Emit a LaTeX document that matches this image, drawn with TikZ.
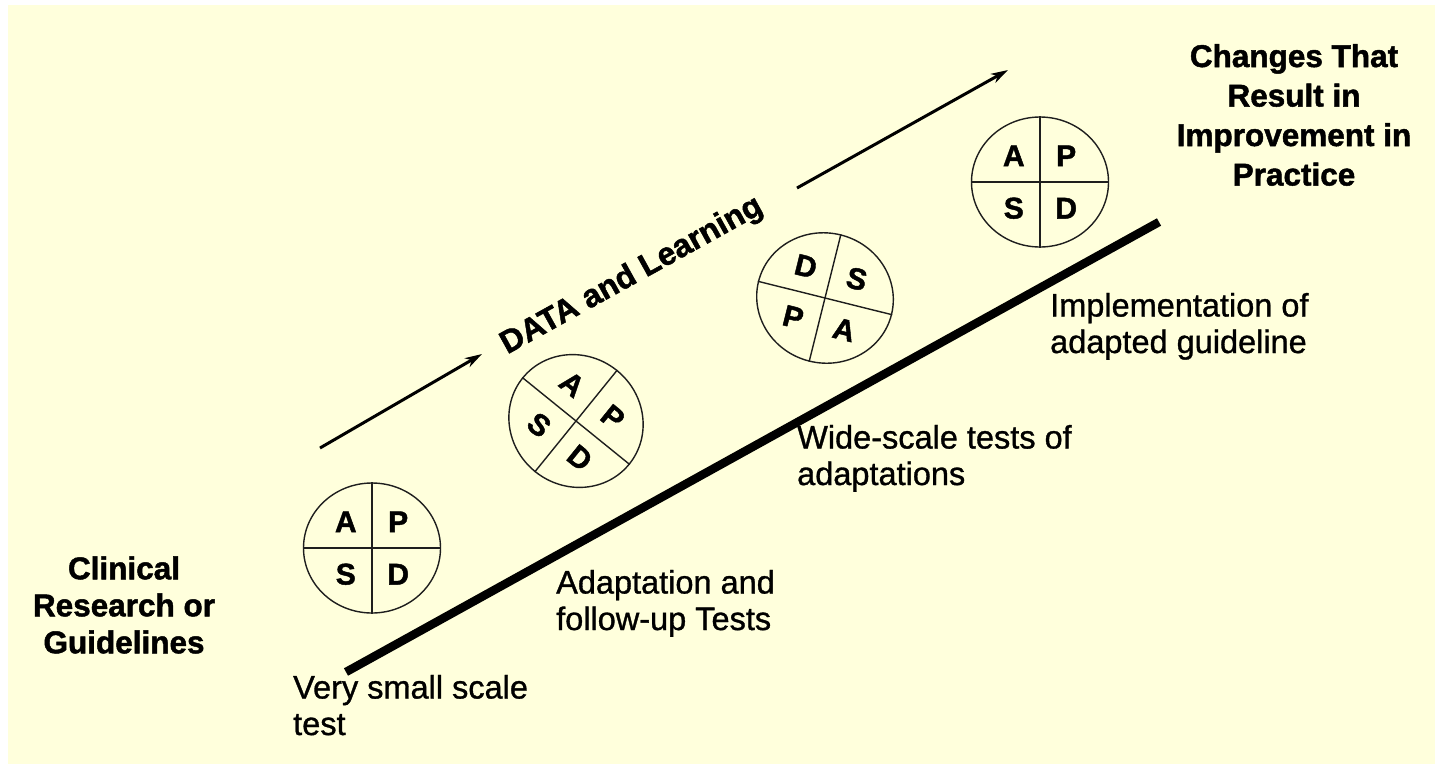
\documentclass[tikz,border=0pt]{standalone}
\usepackage{fontspec}
\setmainfont{Liberation Sans}
\newfontfamily\stagefont[FakeBold=1]{Liberation Sans}
\newfontfamily\headfont[FakeBold=1.5]{Liberation Sans Bold}
\usetikzlibrary{shapes.geometric,arrows.meta,calc}
\definecolor{paper}{RGB}{255,255,220}
\definecolor{ink}{RGB}{30,30,30}
\begin{document}
\begin{tikzpicture}[x=1pt,y=-1pt,
  pdsa/.style={draw=ink, line width=1.4pt, ellipse, minimum width=137pt,
    minimum height=130pt, inner sep=0pt},
  quad/.style={draw=ink, line width=1.4pt},
  letter/.style={font=\fontsize{30}{30}\selectfont\headfont, inner sep=0pt},
  title/.style={font=\fontsize{31.5}{#1}\selectfont\headfont, align=center, inner sep=0pt},
  title/.default=38,
  label/.style={font=\fontsize{32.5}{36.5}\selectfont\stagefont, align=left,
    anchor=base west, inner sep=0pt},
  flow/.style={line width=3pt, -{Stealth[length=17pt,width=10pt,inset=5pt]}},
  scaleline/.style={line width=8.5pt}]

% page and paper
\useasboundingbox (0,0) rectangle (1435,764);
\fill[white] (0,0) rectangle (1435,764);
\fill[paper] (8,5) rectangle (1435,764);

% the rising scale line
\coordinate (s0) at (346,672);
\coordinate (s1) at (1159,222);
\draw[scaleline] (s0) -- (s1);

% data and learning arrows
\coordinate (a0) at (320,448);
\coordinate (a1) at (482,354);
\coordinate (b0) at (797,188);
\coordinate (b1) at (1008,70);
\draw[flow] (a0) -- (a1);
\draw[flow] (b0) -- (b1);
\node[font=\fontsize{32}{32}\selectfont\headfont, rotate=29, inner sep=0pt]
  (data) at (632,276) {DATA and Learning};

% PDSA cycle 1
\node[pdsa] (c1) at (372,548) {};
\draw[quad] (c1.north) -- (c1.south) (c1.west) -- (c1.east);
\node[letter] (c1a) at ($(c1.center)!0.55!(c1.135)$) {A};
\node[letter] (c1p) at ($(c1.center)!0.55!(c1.45)$) {P};
\node[letter] (c1s) at ($(c1.center)!0.55!(c1.-135)$) {S};
\node[letter] (c1d) at ($(c1.center)!0.55!(c1.-45)$) {D};

% PDSA cycle 2
\node[pdsa, rotate=-39] (c2) at (576,421) {};
\draw[quad] (c2.north) -- (c2.south) (c2.west) -- (c2.east);
\node[letter, rotate=-39] (c2a) at ($(c2.center)!0.55!(c2.135)$) {A};
\node[letter, rotate=-39] (c2p) at ($(c2.center)!0.55!(c2.45)$) {P};
\node[letter, rotate=-39] (c2s) at ($(c2.center)!0.55!(c2.-135)$) {S};
\node[letter, rotate=-39] (c2d) at ($(c2.center)!0.55!(c2.-45)$) {D};

% PDSA cycle 3
\node[pdsa, rotate=-14] (c3) at (825,298) {};
\draw[quad] (c3.north) -- (c3.south) (c3.west) -- (c3.east);
\node[letter, rotate=-14] (c3d) at ($(c3.center)!0.55!(c3.135)$) {D};
\node[letter, rotate=-14] (c3s) at ($(c3.center)!0.55!(c3.45)$) {S};
\node[letter, rotate=-14] (c3p) at ($(c3.center)!0.55!(c3.-135)$) {P};
\node[letter, rotate=-14] (c3a) at ($(c3.center)!0.55!(c3.-45)$) {A};

% PDSA cycle 4
\node[pdsa] (c4) at (1040,182) {};
\draw[quad] (c4.north) -- (c4.south) (c4.west) -- (c4.east);
\node[letter] (c4a) at ($(c4.center)!0.55!(c4.135)$) {A};
\node[letter] (c4p) at ($(c4.center)!0.55!(c4.45)$) {P};
\node[letter] (c4s) at ($(c4.center)!0.55!(c4.-135)$) {S};
\node[letter] (c4d) at ($(c4.center)!0.55!(c4.-45)$) {D};

% start and goal
\node[title=37] (start) at (124,605) {Clinical\\Research or\\Guidelines};
\node[title=39.5] (goal) at (1294,115) {Changes That\\Result in\\Improvement in\\Practice};

% stages along the line (anchored on the baseline of the last line)
\node[label] (st1) at (293,735) {Very small scale\\test};
\node[label] (st2) at (556,630) {Adaptation and\\follow-up Tests};
\node[label] (st3) at (797,485) {Wide-scale tests of\\adaptations};
\node[label] (st4) at (1050,353) {Implementation of\\adapted guideline};
\end{tikzpicture}
\end{document}
